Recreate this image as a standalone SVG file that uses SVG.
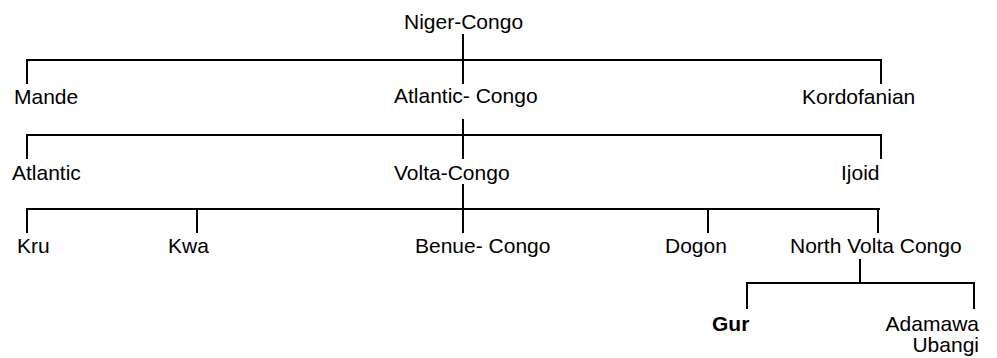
<svg xmlns="http://www.w3.org/2000/svg" width="997" height="358" viewBox="0 0 997 358">
<style>
text{font-family:"Liberation Sans",Arial,sans-serif;font-size:21px;fill:#000}
.b{font-weight:bold}
.c{fill:none;stroke:#000;stroke-width:2}
</style>
<rect width="997" height="358" fill="#fff"/>
<g id="connectors" class="c">
<path d="M463,34V84"/>
<path d="M27,84V60H881V84"/>
<path d="M463,119V159"/>
<path d="M27,159V135H881V159"/>
<path d="M463,184V233"/>
<path d="M27,233V209H880"/>
<path d="M197,209V233"/>
<path d="M708,209V233"/>
<path d="M878,209V233"/>
<path d="M860,259V283"/>
<path d="M747,309V283H974V309"/>
</g>
<g id="niger-congo"><text x="404" y="29">Niger-Congo</text></g>
<g id="mande"><text x="14" y="104">Mande</text></g>
<g id="atlantic-congo"><text x="394" y="103">Atlantic- Congo</text></g>
<g id="kordofanian"><text x="802" y="104">Kordofanian</text></g>
<g id="atlantic"><text x="12" y="180">Atlantic</text></g>
<g id="volta-congo"><text x="394" y="180">Volta-Congo</text></g>
<g id="ijoid"><text x="841" y="180">Ijoid</text></g>
<g id="kru"><text x="17" y="253">Kru</text></g>
<g id="kwa"><text x="168" y="253">Kwa</text></g>
<g id="benue-congo"><text x="415" y="253">Benue- Congo</text></g>
<g id="dogon"><text x="665" y="253">Dogon</text></g>
<g id="north-volta-congo"><text x="790" y="253">North Volta Congo</text></g>
<g id="gur"><text class="b" x="712" y="331">Gur</text></g>
<g id="adamawa-ubangi"><text x="979" y="331" text-anchor="end">Adamawa</text><text x="979" y="352" text-anchor="end">Ubangi</text></g>
</svg>
